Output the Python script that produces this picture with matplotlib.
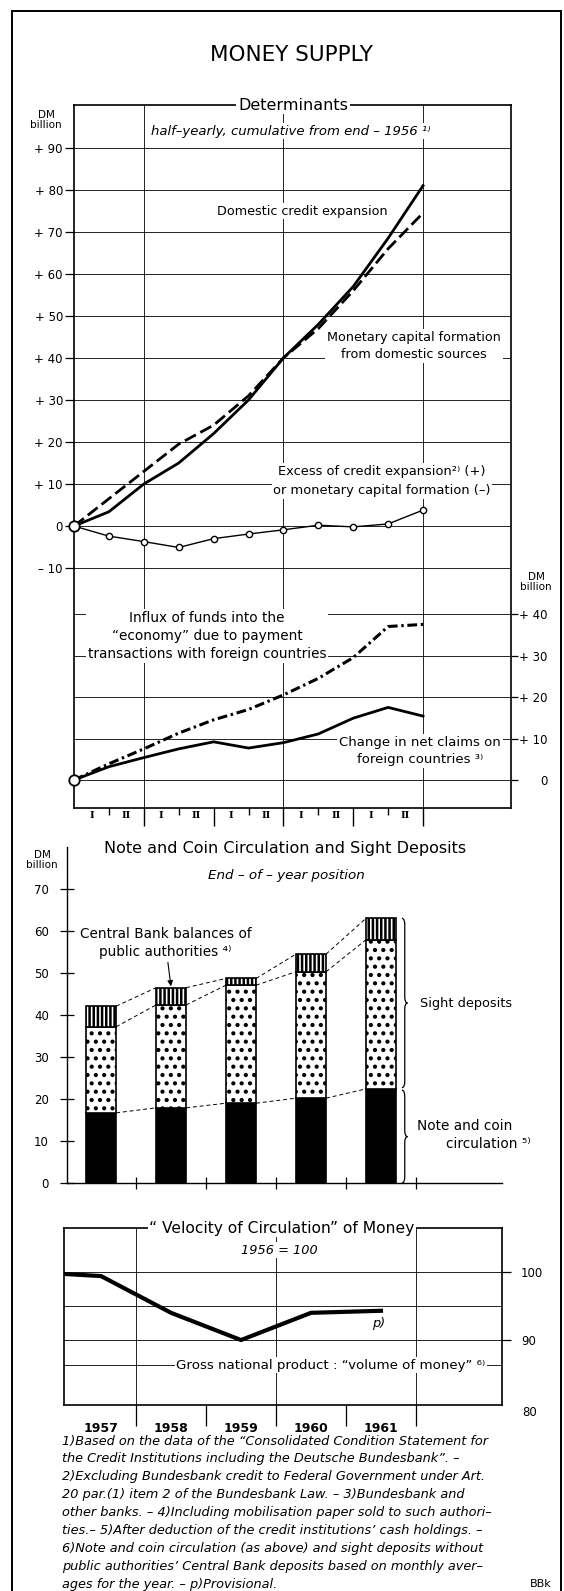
"""
Money supply chart: determinants, note/coin circulation and sight deposits,
and the velocity of circulation of money (1957-1961).
"""

import numpy as np
import matplotlib
matplotlib.use('Agg')
import matplotlib.pyplot as plt
import matplotlib.transforms as mtransforms
from matplotlib.patches import Rectangle, PathPatch
from matplotlib.path import Path

plt.rcParams['font.family'] = ['DejaVu Sans']
plt.rcParams['hatch.linewidth'] = 1.8

# ---- Determinants (half-yearly, cumulative from end-1956), DM billion ----
half_year_labels = ['I', 'II'] * 5
domestic_credit = [0, 3.4, 10, 15, 22, 30, 40, 48, 57, 68.5, 81]
monetary_capital = [0, 6.5, 13, 19.5, 24, 31, 40, 47, 56, 66, 74.5]
excess = [0, -2.4, -3.7, -5.1, -3.0, -1.9, -0.9, 0.2, -0.2, 0.5, 3.8]
influx = [0, 3.9, 7.5, 11.3, 14.5, 17, 20.5, 24.5, 29.5, 37, 37.5]
net_claims = [0, 3.2, 5.4, 7.5, 9.2, 7.7, 9, 11.1, 14.9, 17.5, 15.4]
left_ticks = [90, 80, 70, 60, 50, 40, 30, 20, 10, 0, -10]
left_labels = ['+ 90', '+ 80', '+ 70', '+ 60', '+ 50', '+ 40', '+ 30',
               '+ 20', '+ 10', '0', '– 10']
right_ticks = [40, 30, 20, 10, 0]
right_labels = ['+ 40', '+ 30', '+ 20', '+ 10', '0']

# ---- Note and coin circulation and sight deposits, end of year ----
years = [1957, 1958, 1959, 1960, 1961]
note_coin = [16.7, 17.9, 19.0, 20.2, 22.4]
sight_other = [20.5, 24.5, 28.1, 30.1, 35.5]
cb_balances = [4.9, 4.1, 1.6, 4.2, 5.1]
mid_ticks = [0, 10, 20, 30, 40, 50, 60, 70]

# ---- Velocity of circulation, 1956 = 100 ----
vel_years = [1956, 1957, 1958, 1959, 1960, 1961]
velocity = [100, 99.4, 94.0, 90.0, 94.0, 94.3]
vel_ticks = [100, 90]
vel_grid = [100, 95, 90]

footnotes = [
    '1)Based on the data of the “Consolidated Condition Statement for',
    'the Credit Institutions including the Deutsche Bundesbank”. –',
    '2)Excluding Bundesbank credit to Federal Government under Art.',
    '20 par.(1) item 2 of the Bundesbank Law. – 3)Bundesbank and',
    'other banks. – 4)Including mobilisation paper sold to such authori–',
    'ties.– 5)After deduction of the credit institutions’ cash holdings. –',
    '6)Note and coin circulation (as above) and sight deposits without',
    'public authorities’ Central Bank deposits based on monthly aver–',
    'ages for the year. – p)Provisional.',
]

W, H = 564, 1591
fig = plt.figure(figsize=(W / 100, H / 100), dpi=100)
WB = dict(facecolor='white', edgecolor='none', pad=1.2)


def px_box(l, t, r, b):
    return [l / W, 1 - b / H, (r - l) / W, (b - t) / H]


def ftext(x, y, s, **kw):
    kw.setdefault('ha', 'center')
    kw.setdefault('va', 'center')
    return fig.text(x / W, 1 - y / H, s, **kw)


def brace(ax, x, y0, y1, w, d):
    ym = (y0 + y1) / 2
    xm = x + w / 2
    verts = [(x, y0), (xm, y0), (xm, y0 + d), (xm, ym - d), (xm, ym), (x + w, ym),
             (xm, ym), (xm, ym + d), (xm, y1 - d), (xm, y1), (x, y1)]
    codes = [Path.MOVETO, Path.CURVE3, Path.CURVE3, Path.LINETO, Path.CURVE3,
             Path.CURVE3, Path.CURVE3, Path.CURVE3, Path.LINETO, Path.CURVE3,
             Path.CURVE3]
    ax.add_patch(PathPatch(Path(verts, codes), fill=False, lw=0.9,
                           edgecolor='black', clip_on=False))


# outer frame
fig.add_artist(Rectangle((12 / W, -0.01), (561 - 12) / W, 1 - 11 / H + 0.01,
                         transform=fig.transFigure, fill=False, lw=1.4,
                         edgecolor='black'))
ftext(291, 55, 'MONEY SUPPLY', fontsize=15.5)

# ================= Determinants =================
ax1 = fig.add_axes(px_box(74, 105, 511, 808))
ax2 = ax1.twinx()
x_half = np.arange(len(domestic_credit))
ax1.set_xlim(0, 12.52)
ax1.set_ylim(-67.1, 100.2)
ax2.set_ylim(-6.75, 162.7)

for v in left_ticks:
    ax1.axhline(v, color='black', lw=0.6, zorder=1)
for v in right_ticks:
    ax2.axhline(v, color='black', lw=0.6, zorder=1)
for xv in x_half[2::4]:
    ax1.axvline(xv, color='black', lw=0.6, zorder=1)

ax1.plot(x_half, domestic_credit, color='black', lw=2.0, zorder=3)
ax1.plot(x_half, monetary_capital, color='black', lw=2.0,
         dashes=(4.5, 1.8), zorder=3)
ax1.plot(x_half, excess, color='black', lw=1.0, marker='o', ms=4.5,
         mfc='white', mec='black', mew=1.0, zorder=4)
ax1.plot(x_half[0], domestic_credit[0], 'o', ms=7.5, mfc='white', mec='black',
         mew=1.3, clip_on=False, zorder=6)

ax2.plot(x_half, influx, color='black', lw=2.2, dashes=(3.2, 1.2, 0.8, 1.2),
         zorder=3)
ax2.plot(x_half, net_claims, color='black', lw=2.0, zorder=3)
ax2.plot(x_half[0], influx[0], 'o', ms=7.5, mfc='white', mec='black',
         mew=1.3, clip_on=False, zorder=6)

ax1.set_xticks(x_half[2::2])
ax1.set_xticks(x_half[1::2], minor=True)
ax1.tick_params(axis='x', which='major', direction='out', length=13,
                width=1.0, labelbottom=False)
ax1.tick_params(axis='x', which='minor', direction='out', length=5,
                width=1.0, labelbottom=False)
trans_h = mtransforms.blended_transform_factory(ax1.transData, ax1.transAxes)
for i, lab in enumerate(half_year_labels):
    ax1.text(x_half[i] + 0.5, -0.011, lab, transform=trans_h, ha='center',
             va='center', family='DejaVu Serif', fontsize=7, fontweight='bold')

ax1.set_yticks(left_ticks, left_labels)
ax1.tick_params(axis='y', direction='out', length=6.5, width=0.9,
                labelsize=8.5, pad=1.5)
ax2.set_yticks(right_ticks, right_labels)
ax2.tick_params(axis='y', direction='out', length=5, width=0.9,
                labelsize=8.5, pad=21.5)
for lab in ax2.get_yticklabels():
    lab.set_ha('right')
for s in ax1.spines.values():
    s.set_linewidth(1.2)
for s in ax2.spines.values():
    s.set_visible(False)

ftext(46, 120, 'DM\nbillion', fontsize=7.5, linespacing=1.05)
ftext(536, 582, 'DM\nbillion', fontsize=7.5, linespacing=1.05)
ftext(293, 105, 'Determinants', fontsize=11.5, bbox=WB)
ftext(291, 131, 'half–yearly, cumulative from end – 1956 ¹⁾', fontsize=9.5,
      style='italic', bbox=WB)
ftext(302, 211, 'Domestic credit expansion', fontsize=9.2, bbox=WB)
ftext(414, 346, 'Monetary capital formation\nfrom domestic sources',
      fontsize=9.2, linespacing=1.5, bbox=WB)
ftext(382, 481, 'Excess of credit expansion²⁾ (+)\nor monetary capital formation (–)',
      fontsize=9.4, linespacing=1.6, bbox=WB)
ftext(207, 636, 'Influx of funds into the\n“economy” due to payment\n'
      'transactions with foreign countries', fontsize=9.8, linespacing=1.4,
      bbox=WB)
ftext(420, 751, 'Change in net claims on\nforeign countries ³⁾', fontsize=9.5,
      linespacing=1.36, bbox=WB)

# ================= Note and coin circulation and sight deposits =================
ax_m = fig.add_axes(px_box(66.5, 847, 502, 1183))
ax_m.set_xlim(1956.505, 1962.73)
ax_m.set_ylim(0, 80)
bar_w = 0.43
lvl_sight = np.add(note_coin, sight_other)
lvl_total = lvl_sight + np.array(cb_balances)
ax_m.bar(years, note_coin, width=bar_w, color='black', edgecolor='black',
         lw=1.2, zorder=3)
ax_m.bar(years, sight_other, bottom=note_coin, width=bar_w, color='white',
         edgecolor='black', hatch='..', lw=1.2, zorder=3)
ax_m.bar(years, cb_balances, bottom=lvl_sight, width=bar_w, color='white',
         edgecolor='black', hatch='||||', lw=1.2, zorder=3)
for lev in (note_coin, lvl_sight, lvl_total):
    for i in range(len(years) - 1):
        ax_m.plot([years[i] + bar_w / 2, years[i + 1] - bar_w / 2],
                  [lev[i], lev[i + 1]], color='black', lw=0.7,
                  dashes=(4, 3), zorder=2)

brace(ax_m, years[-1] + 0.30, note_coin[-1] + 0.3, lvl_total[-1], 0.08, 1.5)
brace(ax_m, years[-1] + 0.30, 0, note_coin[-1] - 0.3, 0.08, 1.5)
ax_m.text(years[-1] + 0.56, (note_coin[-1] + lvl_total[-1]) / 2,
          'Sight deposits', fontsize=9.3, ha='left', va='center', clip_on=False)
ax_m.text(years[-1] + 0.51, note_coin[-1] / 2 + 2.3, 'Note and coin',
          fontsize=9.8, ha='left', va='center', clip_on=False)
ax_m.text(years[-1] + 0.93, note_coin[-1] / 2 - 1.8, 'circulation ⁵⁾',
          fontsize=9.8, ha='left', va='center', clip_on=False)
ax_m.annotate('Central Bank balances of\npublic authorities ⁴⁾',
              xy=(years[1], lvl_total[1]), xytext=(1957.92, 57.1),
              fontsize=9.8, ha='center', va='center', linespacing=1.4,
              bbox=WB,
              arrowprops=dict(arrowstyle='-|>', color='black', lw=0.8,
                              mutation_scale=8, shrinkA=1, shrinkB=1))

ax_m.spines['top'].set_visible(False)
ax_m.spines['right'].set_visible(False)
ax_m.spines['left'].set_linewidth(1.0)
ax_m.spines['bottom'].set_linewidth(1.0)
ax_m.set_yticks(mid_ticks)
ax_m.tick_params(axis='y', direction='inout', length=9.5, width=0.9,
                 labelsize=8.5, pad=8)
ax_m.set_xticks(np.add(years, 0.5))
ax_m.tick_params(axis='x', direction='inout', length=8, width=0.9,
                 labelbottom=False)

ftext(42, 860, 'DM\nbillion', fontsize=7.5, linespacing=1.05)
ftext(285, 848, 'Note and Coin Circulation and Sight Deposits', fontsize=11.5)
ftext(286, 876, 'End – of – year position', fontsize=9.7, style='italic')

# ================= Velocity of circulation =================
ax_v = fig.add_axes(px_box(64, 1228, 502, 1405))
ax_v.set_xlim(1956.47, 1962.73)
ax_v.set_ylim(80.45, 106.47)
for v in vel_grid:
    ax_v.axhline(v, color='black', lw=0.6, zorder=1)
ax_v.axhline(86.3, color='black', lw=0.6, zorder=1)
for xv in np.add(years[::2], 0.5):
    ax_v.axvline(xv, color='black', lw=0.6, zorder=1)
ax_v.plot(vel_years, velocity, color='black', lw=3.0, zorder=3)

ax_v.yaxis.tick_right()
ax_v.set_yticks(vel_ticks)
ax_v.tick_params(axis='y', direction='out', length=6.5, width=0.9,
                 labelsize=8.5, pad=7)
ax_v.set_xticks(np.add(years, 0.5))
ax_v.tick_params(axis='x', which='major', direction='out', length=15,
                 width=0.9, labelbottom=False)
ax_v.set_xticks(years, [str(y) for y in years], minor=True)
ax_v.tick_params(axis='x', which='minor', length=0, pad=12, labelsize=9)
for lab in ax_v.get_xticklabels(minor=True):
    lab.set_fontweight('bold')
for s in ax_v.spines.values():
    s.set_linewidth(1.2)

ftext(522, 1412, '80', fontsize=8.5, ha='left')
ftext(282, 1228, '“ Velocity of Circulation” of Money', fontsize=11.2, bbox=WB)
ftext(279, 1250, '1956 = 100', fontsize=9.3, style='italic', bbox=WB)
ftext(379, 1323, 'p)', fontsize=9.3, style='italic')
ftext(331, 1365, 'Gross national product : “volume of money” ⁶⁾', fontsize=9.6,
      bbox=WB)

# ================= Footnotes =================
for k, line in enumerate(footnotes):
    ftext(62, 1441 + 17.9 * k, line, fontsize=9.3, style='italic', ha='left')
ftext(541, 1584, 'BBk', fontsize=8)

fig.savefig('out.png', dpi=100)
